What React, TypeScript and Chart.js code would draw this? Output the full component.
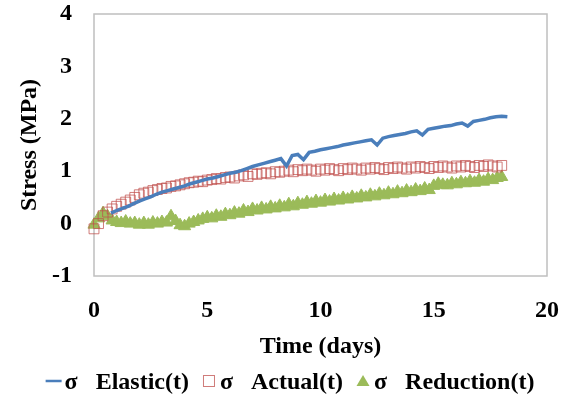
import React, { useEffect, useRef } from "react";
import { Chart, registerables } from "chart.js";

Chart.register(...registerables);

// x values (days)
const elasticTimes = [
  0.75, 1.0, 1.25, 1.5, 1.75, 2.0, 2.25, 2.5, 2.75, 3.0, 3.25, 3.5, 3.75, 4.0, 4.25, 4.5, 4.75, 5.0,
  5.25, 5.5, 5.75, 6.0, 6.25, 6.5, 6.75, 7.0, 7.25, 7.5, 7.75, 8.0, 8.25, 8.5, 8.75, 9.0, 9.25, 9.5,
  9.75, 10.0, 10.25, 10.5, 10.75, 11.0, 11.25, 11.5, 11.75, 12.0, 12.25, 12.5, 12.75, 13.0, 13.25,
  13.5, 13.75, 14.0, 14.25, 14.5, 14.75, 15.0, 15.25, 15.5, 15.75, 16.0, 16.25, 16.5, 16.75, 17.0,
  17.25, 17.5, 17.75, 18.0, 18.25,
];
const elasticValues = [
  0.2, 0.25, 0.29, 0.33, 0.38, 0.43, 0.47, 0.51, 0.56, 0.6, 0.63, 0.66, 0.69, 0.72, 0.76, 0.79, 0.82, 0.85,
  0.87, 0.9, 0.93, 0.96, 0.98, 1.01, 1.05, 1.09, 1.12, 1.15, 1.18, 1.21, 1.24, 1.1, 1.3, 1.32, 1.22, 1.36,
  1.38, 1.41, 1.43, 1.45, 1.47, 1.5, 1.52, 1.54, 1.56, 1.58, 1.6, 1.5, 1.63, 1.66, 1.68,
  1.7, 1.72, 1.75, 1.77, 1.69, 1.8, 1.82, 1.84, 1.86, 1.87, 1.9, 1.92, 1.86, 1.95, 1.97,
  1.99, 2.02, 2.04, 2.05, 2.04,
];

const sampleTimes = [
  0.0, 0.2, 0.4, 0.6, 0.8, 1.0, 1.2, 1.4, 1.6, 1.8, 2.0, 2.2, 2.4, 2.6, 2.8, 3.0, 3.2, 3.4, 3.6, 3.8,
  4.0, 4.2, 4.4, 4.6, 4.8, 5.0, 5.2, 5.4, 5.6, 5.8, 6.0, 6.2, 6.4, 6.6, 6.8, 7.0, 7.2, 7.4, 7.6, 7.8,
  8.0, 8.2, 8.4, 8.6, 8.8, 9.0, 9.2, 9.4, 9.6, 9.8, 10.0, 10.2, 10.4, 10.6, 10.8, 11.0, 11.2, 11.4,
  11.6, 11.8, 12.0, 12.2, 12.4, 12.6, 12.8, 13.0, 13.2, 13.4, 13.6, 13.8, 14.0, 14.2, 14.4, 14.6,
  14.8, 15.0, 15.2, 15.4, 15.6, 15.8, 16.0, 16.2, 16.4, 16.6, 16.8, 17.0, 17.2, 17.4, 17.6, 17.8, 18.0,
];
const actualValues = [
  -0.1, 0.0, 0.15, 0.22, 0.28, 0.33, 0.37, 0.41, 0.45, 0.5, 0.55, 0.58, 0.6, 0.63, 0.65, 0.67, 0.68, 0.71, 0.72, 0.74,
  0.76, 0.78, 0.79, 0.81, 0.8, 0.83, 0.84, 0.86, 0.85, 0.88, 0.89, 0.87, 0.91, 0.93, 0.9, 0.95, 0.94, 0.96, 0.97, 0.95,
  0.99, 0.98, 1.0, 1.02, 0.99, 1.03, 1.01, 1.04, 1.02, 1.0, 1.04, 1.02, 1.05, 1.03, 1.01, 1.05, 1.03, 1.06,
  1.04, 1.02, 1.06, 1.04, 1.07, 1.05, 1.03, 1.07, 1.05, 1.08, 1.06, 1.04, 1.08, 1.06, 1.09, 1.07,
  1.05, 1.09, 1.07, 1.1, 1.08, 1.06, 1.1, 1.08, 1.11, 1.09, 1.07, 1.11, 1.09, 1.12, 1.1, 1.08, 1.11,
];
const reductionValues = [
  -0.02, 0.1, 0.2, 0.14, 0.06, 0.03, 0.01, 0.04, 0.0, 0.01, -0.02, 0.01, -0.02, 0.02, 0.0, 0.03, 0.02, 0.14, 0.05, -0.03,
  -0.05, 0.0, 0.03, 0.06, 0.09, 0.12, 0.1, 0.15, 0.13, 0.18, 0.16, 0.21, 0.19, 0.25, 0.22, 0.28, 0.25, 0.3, 0.27, 0.32,
  0.29, 0.34, 0.31, 0.37, 0.33, 0.39, 0.36, 0.41, 0.38, 0.43, 0.4, 0.45, 0.42, 0.47, 0.44, 0.49, 0.46, 0.51,
  0.48, 0.53, 0.5, 0.55, 0.52, 0.57, 0.54, 0.59, 0.56, 0.61, 0.58, 0.63, 0.6, 0.65, 0.62, 0.67,
  0.64, 0.72, 0.76, 0.74, 0.73, 0.77, 0.75, 0.79, 0.77, 0.81, 0.78, 0.83, 0.8, 0.85, 0.83, 0.87, 0.89,
];

const seriesLabels = ["σ   Elastic(t)", "σ   Actual(t)", "σ   Reduction(t)"];
const xTitle = "Time (days)";
const yTitle = "Stress (MPa)";

const FONT = '"Liberation Serif", "Times New Roman", serif';
const FONT_SIZE = 24;

const BLUE = "#4a7ebb";
const RED = "rgba(192,80,77,0.75)";
const GREEN = "#9bbb59";

const borderPlugin = {
  id: "plotBorder",
  beforeDatasetsDraw(chart: any) {
    const { ctx, chartArea } = chart;
    ctx.save();
    ctx.strokeStyle = "#bfbfbf";
    ctx.lineWidth = 1.5;
    ctx.strokeRect(chartArea.left, chartArea.top, chartArea.right - chartArea.left, chartArea.bottom - chartArea.top);
    ctx.restore();
  },
};

// legend drawn below the axis title, centred like the original
const legendPlugin = {
  id: "bottomLegend",
  afterDraw(chart: any) {
    const { ctx } = chart;
    ctx.save();
    ctx.font = `bold ${FONT_SIZE}px ${FONT}`;
    ctx.textBaseline = "middle";
    ctx.fillStyle = "#000";
    const markerW = 16;
    const gap = 3;
    const itemGap = 12;
    const sets = chart.data.datasets;
    const widths = sets.map((ds: any) => markerW + gap + ctx.measureText(ds.label).width);
    const total = widths.reduce((a: number, b: number) => a + b, 0) + itemGap * (sets.length - 1);
    let x = 290 - total / 2;
    const yText = 383;
    const yMark = 381;
    sets.forEach((ds: any, i: number) => {
      const cx = x + markerW / 2;
      if (ds.pointStyle === "line") {
        ctx.strokeStyle = ds.borderColor;
        ctx.lineWidth = 2.5;
        ctx.beginPath();
        ctx.moveTo(x, yMark);
        ctx.lineTo(x + markerW, yMark);
        ctx.stroke();
      } else if (ds.pointStyle === "rect") {
        ctx.strokeStyle = ds.borderColor;
        ctx.lineWidth = 1;
        ctx.strokeRect(cx - 5.5, yMark - 5.5, 11, 11);
      } else {
        ctx.fillStyle = ds.backgroundColor;
        ctx.beginPath();
        ctx.moveTo(cx, yMark - 6);
        ctx.lineTo(cx + 6.5, yMark + 5);
        ctx.lineTo(cx - 6.5, yMark + 5);
        ctx.closePath();
        ctx.fill();
      }
      ctx.fillStyle = "#000";
      ctx.fillText(ds.label, x + markerW + gap, yText);
      x += widths[i] + itemGap;
    });
    ctx.restore();
  },
};

export default function App() {
  const ref = useRef<HTMLCanvasElement>(null);
  useEffect(() => {
    document.body.style.margin = "0";
    const toXY = (xs: number[], ys: number[]) => xs.map((x, i) => ({ x, y: ys[i] }));
    const tickFont = { family: FONT, size: FONT_SIZE, weight: "bold" as const };
    const chart = new Chart(ref.current!, {
      type: "scatter",
      data: {
        datasets: [
          {
            label: seriesLabels[0],
            data: toXY(elasticTimes, elasticValues),
            showLine: true,
            borderColor: BLUE,
            backgroundColor: BLUE,
            borderWidth: 3.5,
            pointRadius: 0,
            pointStyle: "line",
            clip: false as any,
          },
          {
            label: seriesLabels[1],
            data: toXY(sampleTimes, actualValues),
            showLine: false,
            borderColor: RED,
            backgroundColor: "rgba(0,0,0,0)",
            borderWidth: 1,
            pointRadius: 7,
            pointStyle: "rect",
            clip: false as any,
          },
          {
            label: seriesLabels[2],
            data: toXY(sampleTimes, reductionValues),
            showLine: false,
            borderColor: GREEN,
            backgroundColor: GREEN,
            borderWidth: 1,
            pointRadius: 7,
            pointStyle: "triangle",
            clip: false as any,
          },
        ],
      },
      options: {
        responsive: false,
        animation: false,
        layout: { padding: { top: 0, right: 28, left: 10, bottom: 35 } },
        plugins: {
          tooltip: { enabled: false },
          legend: { display: false },
        },
        scales: {
          x: {
            type: "linear",
            min: 0,
            max: 20,
            ticks: { stepSize: 5, color: "#000", padding: 20, font: tickFont },
            grid: { display: false, drawTicks: false },
            border: { display: false },
            title: { display: true, text: xTitle, color: "#000", padding: { top: 9, bottom: 0 }, font: tickFont },
            afterFit: (scale: any) => {
              scale.height = 85;
              scale.paddingLeft = 6;
              scale.paddingRight = 12;
            },
          },
          y: {
            type: "linear",
            min: -1,
            max: 4,
            ticks: { stepSize: 1, color: "#000", padding: 22, font: tickFont },
            grid: { display: false, drawTicks: false },
            border: { display: false },
            title: { display: true, text: yTitle, color: "#000", padding: { top: 5, bottom: 8 }, font: tickFont },
            afterFit: (scale: any) => {
              scale.width = 84;
              scale.paddingTop = 14;
              scale.paddingBottom = 14;
            },
          },
        },
      },
      plugins: [borderPlugin, legendPlugin],
    });
    return () => chart.destroy();
  }, []);
  return (
    <div style={{ position: "relative", width: 575, height: 396 }}>
      <canvas ref={ref} width={575} height={396} />
    </div>
  );
}
